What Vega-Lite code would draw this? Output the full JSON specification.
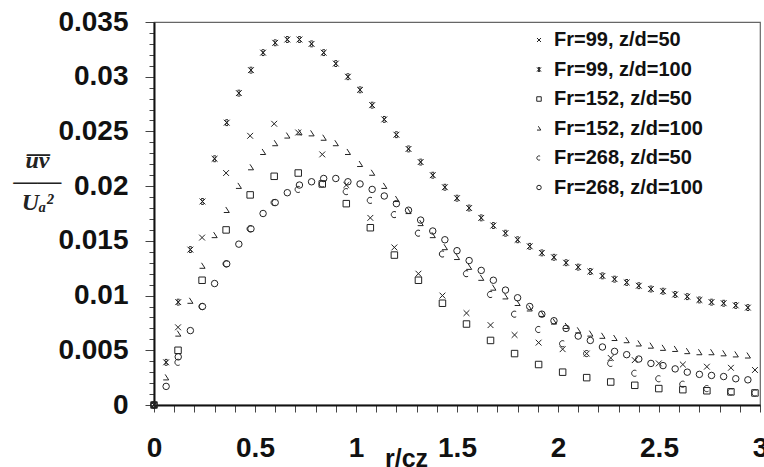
{
"$schema": "https://vega.github.io/schema/vega-lite/v6.json",
"width": 606, "height": 383,
"autosize": {"type": "none"},
"padding": {"left": 154, "top": 22, "right": 4, "bottom": 62},
"background": "white",
"config": {"view": {"stroke": "#666", "strokeWidth": 1.2}},
"datasets": {"pts": [
{"s":"Fr=99, z/d=50","x":0,"y":0},
{"s":"Fr=99, z/d=50","x":0.119,"y":0.0071},
{"s":"Fr=99, z/d=50","x":0.238,"y":0.0153},
{"s":"Fr=99, z/d=50","x":0.357,"y":0.0212},
{"s":"Fr=99, z/d=50","x":0.476,"y":0.0246},
{"s":"Fr=99, z/d=50","x":0.595,"y":0.0257},
{"s":"Fr=99, z/d=50","x":0.714,"y":0.0249},
{"s":"Fr=99, z/d=50","x":0.833,"y":0.0229},
{"s":"Fr=99, z/d=50","x":0.952,"y":0.0201},
{"s":"Fr=99, z/d=50","x":1.071,"y":0.0171},
{"s":"Fr=99, z/d=50","x":1.19,"y":0.0144},
{"s":"Fr=99, z/d=50","x":1.309,"y":0.0120},
{"s":"Fr=99, z/d=50","x":1.428,"y":0.0100},
{"s":"Fr=99, z/d=50","x":1.547,"y":0.0084},
{"s":"Fr=99, z/d=50","x":1.666,"y":0.0073},
{"s":"Fr=99, z/d=50","x":1.785,"y":0.0064},
{"s":"Fr=99, z/d=50","x":1.904,"y":0.0057},
{"s":"Fr=99, z/d=50","x":2.023,"y":0.0051},
{"s":"Fr=99, z/d=50","x":2.142,"y":0.0047},
{"s":"Fr=99, z/d=50","x":2.261,"y":0.0043},
{"s":"Fr=99, z/d=50","x":2.38,"y":0.0041},
{"s":"Fr=99, z/d=50","x":2.499,"y":0.0038},
{"s":"Fr=99, z/d=50","x":2.618,"y":0.0037},
{"s":"Fr=99, z/d=50","x":2.737,"y":0.0035},
{"s":"Fr=99, z/d=50","x":2.856,"y":0.0034},
{"s":"Fr=99, z/d=50","x":2.975,"y":0.0032},
{"s":"Fr=152, z/d=50","x":0,"y":0},
{"s":"Fr=152, z/d=50","x":0.119,"y":0.0050},
{"s":"Fr=152, z/d=50","x":0.238,"y":0.0114},
{"s":"Fr=152, z/d=50","x":0.357,"y":0.0160},
{"s":"Fr=152, z/d=50","x":0.476,"y":0.0192},
{"s":"Fr=152, z/d=50","x":0.595,"y":0.0209},
{"s":"Fr=152, z/d=50","x":0.714,"y":0.0212},
{"s":"Fr=152, z/d=50","x":0.833,"y":0.0202},
{"s":"Fr=152, z/d=50","x":0.952,"y":0.0184},
{"s":"Fr=152, z/d=50","x":1.071,"y":0.0162},
{"s":"Fr=152, z/d=50","x":1.19,"y":0.0137},
{"s":"Fr=152, z/d=50","x":1.309,"y":0.0114},
{"s":"Fr=152, z/d=50","x":1.428,"y":0.0093},
{"s":"Fr=152, z/d=50","x":1.547,"y":0.0074},
{"s":"Fr=152, z/d=50","x":1.666,"y":0.0059},
{"s":"Fr=152, z/d=50","x":1.785,"y":0.0047},
{"s":"Fr=152, z/d=50","x":1.904,"y":0.0037},
{"s":"Fr=152, z/d=50","x":2.023,"y":0.0030},
{"s":"Fr=152, z/d=50","x":2.142,"y":0.0025},
{"s":"Fr=152, z/d=50","x":2.261,"y":0.0021},
{"s":"Fr=152, z/d=50","x":2.38,"y":0.0018},
{"s":"Fr=152, z/d=50","x":2.499,"y":0.0015},
{"s":"Fr=152, z/d=50","x":2.618,"y":0.0014},
{"s":"Fr=152, z/d=50","x":2.737,"y":0.0013},
{"s":"Fr=152, z/d=50","x":2.856,"y":0.0012},
{"s":"Fr=152, z/d=50","x":2.975,"y":0.0011},
{"s":"Fr=268, z/d=50","x":0,"y":0},
{"s":"Fr=268, z/d=50","x":0.119,"y":0.0039},
{"s":"Fr=268, z/d=50","x":0.238,"y":0.0090},
{"s":"Fr=268, z/d=50","x":0.357,"y":0.0129},
{"s":"Fr=268, z/d=50","x":0.476,"y":0.0161},
{"s":"Fr=268, z/d=50","x":0.595,"y":0.0185},
{"s":"Fr=268, z/d=50","x":0.714,"y":0.0197},
{"s":"Fr=268, z/d=50","x":0.833,"y":0.0202},
{"s":"Fr=268, z/d=50","x":0.952,"y":0.0195},
{"s":"Fr=268, z/d=50","x":1.071,"y":0.0187},
{"s":"Fr=268, z/d=50","x":1.19,"y":0.0174},
{"s":"Fr=268, z/d=50","x":1.309,"y":0.0157},
{"s":"Fr=268, z/d=50","x":1.428,"y":0.0138},
{"s":"Fr=268, z/d=50","x":1.547,"y":0.0120},
{"s":"Fr=268, z/d=50","x":1.666,"y":0.0101},
{"s":"Fr=268, z/d=50","x":1.785,"y":0.0083},
{"s":"Fr=268, z/d=50","x":1.904,"y":0.0069},
{"s":"Fr=268, z/d=50","x":2.023,"y":0.0056},
{"s":"Fr=268, z/d=50","x":2.142,"y":0.0047},
{"s":"Fr=268, z/d=50","x":2.261,"y":0.0038},
{"s":"Fr=268, z/d=50","x":2.38,"y":0.0029},
{"s":"Fr=268, z/d=50","x":2.499,"y":0.0024},
{"s":"Fr=268, z/d=50","x":2.618,"y":0.0019},
{"s":"Fr=268, z/d=50","x":2.737,"y":0.0015},
{"s":"Fr=268, z/d=50","x":2.856,"y":0.0012},
{"s":"Fr=268, z/d=50","x":2.975,"y":0.0011},
{"s":"Fr=99, z/d=100","x":0,"y":0},
{"s":"Fr=99, z/d=100","x":0.06,"y":0.0039},
{"s":"Fr=99, z/d=100","x":0.12,"y":0.0094},
{"s":"Fr=99, z/d=100","x":0.18,"y":0.0142},
{"s":"Fr=99, z/d=100","x":0.24,"y":0.0186},
{"s":"Fr=99, z/d=100","x":0.3,"y":0.0225},
{"s":"Fr=99, z/d=100","x":0.36,"y":0.0258},
{"s":"Fr=99, z/d=100","x":0.42,"y":0.0285},
{"s":"Fr=99, z/d=100","x":0.48,"y":0.0306},
{"s":"Fr=99, z/d=100","x":0.54,"y":0.0322},
{"s":"Fr=99, z/d=100","x":0.6,"y":0.0331},
{"s":"Fr=99, z/d=100","x":0.66,"y":0.0334},
{"s":"Fr=99, z/d=100","x":0.72,"y":0.0334},
{"s":"Fr=99, z/d=100","x":0.78,"y":0.0330},
{"s":"Fr=99, z/d=100","x":0.84,"y":0.0322},
{"s":"Fr=99, z/d=100","x":0.9,"y":0.0312},
{"s":"Fr=99, z/d=100","x":0.96,"y":0.0300},
{"s":"Fr=99, z/d=100","x":1.02,"y":0.0288},
{"s":"Fr=99, z/d=100","x":1.08,"y":0.0274},
{"s":"Fr=99, z/d=100","x":1.14,"y":0.0261},
{"s":"Fr=99, z/d=100","x":1.2,"y":0.0247},
{"s":"Fr=99, z/d=100","x":1.26,"y":0.0234},
{"s":"Fr=99, z/d=100","x":1.32,"y":0.0222},
{"s":"Fr=99, z/d=100","x":1.38,"y":0.0210},
{"s":"Fr=99, z/d=100","x":1.44,"y":0.0199},
{"s":"Fr=99, z/d=100","x":1.5,"y":0.0189},
{"s":"Fr=99, z/d=100","x":1.56,"y":0.0180},
{"s":"Fr=99, z/d=100","x":1.62,"y":0.0171},
{"s":"Fr=99, z/d=100","x":1.68,"y":0.0164},
{"s":"Fr=99, z/d=100","x":1.74,"y":0.0157},
{"s":"Fr=99, z/d=100","x":1.8,"y":0.0151},
{"s":"Fr=99, z/d=100","x":1.86,"y":0.0145},
{"s":"Fr=99, z/d=100","x":1.92,"y":0.0139},
{"s":"Fr=99, z/d=100","x":1.98,"y":0.0135},
{"s":"Fr=99, z/d=100","x":2.04,"y":0.0130},
{"s":"Fr=99, z/d=100","x":2.1,"y":0.0126},
{"s":"Fr=99, z/d=100","x":2.16,"y":0.0122},
{"s":"Fr=99, z/d=100","x":2.22,"y":0.0118},
{"s":"Fr=99, z/d=100","x":2.28,"y":0.0115},
{"s":"Fr=99, z/d=100","x":2.34,"y":0.0112},
{"s":"Fr=99, z/d=100","x":2.4,"y":0.0109},
{"s":"Fr=99, z/d=100","x":2.46,"y":0.0106},
{"s":"Fr=99, z/d=100","x":2.52,"y":0.0104},
{"s":"Fr=99, z/d=100","x":2.58,"y":0.0101},
{"s":"Fr=99, z/d=100","x":2.64,"y":0.0099},
{"s":"Fr=99, z/d=100","x":2.7,"y":0.0096},
{"s":"Fr=99, z/d=100","x":2.76,"y":0.0094},
{"s":"Fr=99, z/d=100","x":2.82,"y":0.0093},
{"s":"Fr=99, z/d=100","x":2.88,"y":0.0091},
{"s":"Fr=99, z/d=100","x":2.94,"y":0.0089},
{"s":"Fr=152, z/d=100","x":0,"y":0},
{"s":"Fr=152, z/d=100","x":0.06,"y":0.0025},
{"s":"Fr=152, z/d=100","x":0.12,"y":0.0065},
{"s":"Fr=152, z/d=100","x":0.18,"y":0.0095},
{"s":"Fr=152, z/d=100","x":0.24,"y":0.0127},
{"s":"Fr=152, z/d=100","x":0.3,"y":0.0155},
{"s":"Fr=152, z/d=100","x":0.36,"y":0.0178},
{"s":"Fr=152, z/d=100","x":0.42,"y":0.0200},
{"s":"Fr=152, z/d=100","x":0.48,"y":0.0217},
{"s":"Fr=152, z/d=100","x":0.54,"y":0.0231},
{"s":"Fr=152, z/d=100","x":0.6,"y":0.0239},
{"s":"Fr=152, z/d=100","x":0.66,"y":0.0246},
{"s":"Fr=152, z/d=100","x":0.72,"y":0.0249},
{"s":"Fr=152, z/d=100","x":0.78,"y":0.0248},
{"s":"Fr=152, z/d=100","x":0.84,"y":0.0244},
{"s":"Fr=152, z/d=100","x":0.9,"y":0.0239},
{"s":"Fr=152, z/d=100","x":0.96,"y":0.0231},
{"s":"Fr=152, z/d=100","x":1.02,"y":0.0220},
{"s":"Fr=152, z/d=100","x":1.08,"y":0.0212},
{"s":"Fr=152, z/d=100","x":1.14,"y":0.0200},
{"s":"Fr=152, z/d=100","x":1.2,"y":0.0188},
{"s":"Fr=152, z/d=100","x":1.26,"y":0.0177},
{"s":"Fr=152, z/d=100","x":1.32,"y":0.0166},
{"s":"Fr=152, z/d=100","x":1.38,"y":0.0155},
{"s":"Fr=152, z/d=100","x":1.44,"y":0.0144},
{"s":"Fr=152, z/d=100","x":1.5,"y":0.0135},
{"s":"Fr=152, z/d=100","x":1.56,"y":0.0126},
{"s":"Fr=152, z/d=100","x":1.62,"y":0.0116},
{"s":"Fr=152, z/d=100","x":1.68,"y":0.0107},
{"s":"Fr=152, z/d=100","x":1.74,"y":0.0099},
{"s":"Fr=152, z/d=100","x":1.8,"y":0.0093},
{"s":"Fr=152, z/d=100","x":1.86,"y":0.0088},
{"s":"Fr=152, z/d=100","x":1.92,"y":0.0083},
{"s":"Fr=152, z/d=100","x":1.98,"y":0.0076},
{"s":"Fr=152, z/d=100","x":2.04,"y":0.0072},
{"s":"Fr=152, z/d=100","x":2.1,"y":0.0068},
{"s":"Fr=152, z/d=100","x":2.16,"y":0.0065},
{"s":"Fr=152, z/d=100","x":2.22,"y":0.0063},
{"s":"Fr=152, z/d=100","x":2.28,"y":0.0061},
{"s":"Fr=152, z/d=100","x":2.34,"y":0.0059},
{"s":"Fr=152, z/d=100","x":2.4,"y":0.0056},
{"s":"Fr=152, z/d=100","x":2.46,"y":0.0054},
{"s":"Fr=152, z/d=100","x":2.52,"y":0.0052},
{"s":"Fr=152, z/d=100","x":2.58,"y":0.0051},
{"s":"Fr=152, z/d=100","x":2.64,"y":0.0049},
{"s":"Fr=152, z/d=100","x":2.7,"y":0.0048},
{"s":"Fr=152, z/d=100","x":2.76,"y":0.0048},
{"s":"Fr=152, z/d=100","x":2.82,"y":0.0047},
{"s":"Fr=152, z/d=100","x":2.88,"y":0.0046},
{"s":"Fr=152, z/d=100","x":2.94,"y":0.0045},
{"s":"Fr=268, z/d=100","x":0,"y":0},
{"s":"Fr=268, z/d=100","x":0.06,"y":0.0017},
{"s":"Fr=268, z/d=100","x":0.12,"y":0.0044},
{"s":"Fr=268, z/d=100","x":0.18,"y":0.0068},
{"s":"Fr=268, z/d=100","x":0.24,"y":0.0090},
{"s":"Fr=268, z/d=100","x":0.3,"y":0.0111},
{"s":"Fr=268, z/d=100","x":0.36,"y":0.0129},
{"s":"Fr=268, z/d=100","x":0.42,"y":0.0147},
{"s":"Fr=268, z/d=100","x":0.48,"y":0.0161},
{"s":"Fr=268, z/d=100","x":0.54,"y":0.0175},
{"s":"Fr=268, z/d=100","x":0.6,"y":0.0185},
{"s":"Fr=268, z/d=100","x":0.66,"y":0.0194},
{"s":"Fr=268, z/d=100","x":0.72,"y":0.0201},
{"s":"Fr=268, z/d=100","x":0.78,"y":0.0204},
{"s":"Fr=268, z/d=100","x":0.84,"y":0.0207},
{"s":"Fr=268, z/d=100","x":0.9,"y":0.0207},
{"s":"Fr=268, z/d=100","x":0.96,"y":0.0204},
{"s":"Fr=268, z/d=100","x":1.02,"y":0.0202},
{"s":"Fr=268, z/d=100","x":1.08,"y":0.0197},
{"s":"Fr=268, z/d=100","x":1.14,"y":0.0191},
{"s":"Fr=268, z/d=100","x":1.2,"y":0.0184},
{"s":"Fr=268, z/d=100","x":1.26,"y":0.0178},
{"s":"Fr=268, z/d=100","x":1.32,"y":0.0169},
{"s":"Fr=268, z/d=100","x":1.38,"y":0.0159},
{"s":"Fr=268, z/d=100","x":1.44,"y":0.0151},
{"s":"Fr=268, z/d=100","x":1.5,"y":0.0141},
{"s":"Fr=268, z/d=100","x":1.56,"y":0.0132},
{"s":"Fr=268, z/d=100","x":1.62,"y":0.0123},
{"s":"Fr=268, z/d=100","x":1.68,"y":0.0114},
{"s":"Fr=268, z/d=100","x":1.74,"y":0.0105},
{"s":"Fr=268, z/d=100","x":1.8,"y":0.0098},
{"s":"Fr=268, z/d=100","x":1.86,"y":0.0090},
{"s":"Fr=268, z/d=100","x":1.92,"y":0.0083},
{"s":"Fr=268, z/d=100","x":1.98,"y":0.0077},
{"s":"Fr=268, z/d=100","x":2.04,"y":0.0070},
{"s":"Fr=268, z/d=100","x":2.1,"y":0.0063},
{"s":"Fr=268, z/d=100","x":2.16,"y":0.0059},
{"s":"Fr=268, z/d=100","x":2.22,"y":0.0053},
{"s":"Fr=268, z/d=100","x":2.28,"y":0.0049},
{"s":"Fr=268, z/d=100","x":2.34,"y":0.0046},
{"s":"Fr=268, z/d=100","x":2.4,"y":0.0042},
{"s":"Fr=268, z/d=100","x":2.46,"y":0.0038},
{"s":"Fr=268, z/d=100","x":2.52,"y":0.0036},
{"s":"Fr=268, z/d=100","x":2.58,"y":0.0033},
{"s":"Fr=268, z/d=100","x":2.64,"y":0.0030},
{"s":"Fr=268, z/d=100","x":2.7,"y":0.0028},
{"s":"Fr=268, z/d=100","x":2.76,"y":0.0027},
{"s":"Fr=268, z/d=100","x":2.82,"y":0.0026},
{"s":"Fr=268, z/d=100","x":2.88,"y":0.0024},
{"s":"Fr=268, z/d=100","x":2.94,"y":0.0023}
]},
"data": {"name": "pts"},
"mark": {"type": "point", "filled": false, "size": 42, "strokeWidth": 1, "opacity": 1, "clip": false},
"encoding": {
  "x": {"field": "x", "type": "quantitative",
    "scale": {"domain": [0, 3], "nice": false, "zero": false},
    "axis": {
      "values": [0,0.1,0.2,0.3,0.4,0.5,0.6,0.7,0.8,0.9,1,1.1,1.2,1.3,1.4,1.5,1.6,1.7,1.8,1.9,2,2.1,2.2,2.3,2.4,2.5,2.6,2.7,2.8,2.9,3],
      "labelExpr": "round(datum.value*10) % 5 === 0 ? format(datum.value, '~g') : ''",
      "grid": false, "domainColor": "#111", "domainWidth": 2,
      "tickColor": "#444", "tickWidth": 1, "tickSize": 7,
      "labelFont": "Liberation Sans", "labelFontWeight": "bold", "labelFontSize": 28,
      "labelColor": "#111", "labelPadding": 22, "labelOverlap": false, "labelFlush": false,
      "title": "r/cz", "titleFont": "Liberation Sans", "titleFontWeight": "bold", "titleFontSize": 25,
      "titleColor": "#111", "titleX": 252, "titleY": 61, "titleBaseline": "alphabetic", "titleAlign": "center"
    }},
  "y": {"field": "y", "type": "quantitative",
    "scale": {"domain": [0, 0.035], "nice": false, "zero": false},
    "axis": {
      "values": [0,0.001,0.002,0.003,0.004,0.005,0.006,0.007,0.008,0.009,0.01,0.011,0.012,0.013,0.014,0.015,0.016,0.017,0.018,0.019,0.02,0.021,0.022,0.023,0.024,0.025,0.026,0.027,0.028,0.029,0.03,0.031,0.032,0.033,0.034,0.035],
      "labelExpr": "round(datum.value*1000) % 5 === 0 ? format(datum.value, '~g') : ''",
      "grid": false, "domainColor": "#111", "domainWidth": 2,
      "tickColor": "#444", "tickWidth": 1,
      "tickSize": {"condition": {"test": "round(datum.value*1000) % 5 === 0", "value": 9}, "value": 5},
      "labelFont": "Liberation Sans", "labelFontWeight": "bold", "labelFontSize": 28,
      "labelColor": "#111", "labelPadding": 17, "labelOverlap": false, "labelFlush": false,
      "title": ["u\u0305v\u0305", "\u2014\u2014", "U\u2090\u00b2"],
      "titleFont": "Liberation Serif", "titleFontStyle": "italic", "titleFontWeight": "bold", "titleFontSize": 24,
      "titleLineHeight": 21, "titleAngle": 0, "titleColor": "#222",
      "titleX": -117, "titleY": 145, "titleAlign": "center", "titleBaseline": "alphabetic"
    }},
  "shape": {"field": "s", "type": "nominal",
    "scale": {
      "domain": ["Fr=99, z/d=50", "Fr=99, z/d=100", "Fr=152, z/d=50", "Fr=152, z/d=100", "Fr=268, z/d=50", "Fr=268, z/d=100"],
      "range": [
        "M-0.9,-0.9L0.9,0.9M-0.9,0.9L0.9,-0.9",
        "M-0.9,-0.9L0.9,0.9M-0.9,0.9L0.9,-0.9M-0.4,-0.9L0.4,-0.9M-0.4,0.9L0.4,0.9M-0.5,-0.75L0.5,0.75M-0.5,0.75L0.5,-0.75",
        "square",
        "M-0.3,-1L0.8,0.7L-0.9,0.7",
        "M0.5,-0.8A0.95,0.95 0 1 0 0.5,0.8",
        "circle"
      ]},
    "legend": {
      "title": null, "orient": "none", "legendX": 375, "legendY": 8, "padding": 0,
      "symbolSize": 20, "symbolStrokeWidth": 1, "symbolStrokeColor": "#222", "symbolFillColor": "transparent",
      "labelFont": "Liberation Sans", "labelFontWeight": "bold", "labelFontSize": 20, "labelColor": "#111",
      "labelOffset": 5, "rowPadding": 9.5, "labelLimit": 300
    }},
  "color": {"value": "#222"}
}
}
